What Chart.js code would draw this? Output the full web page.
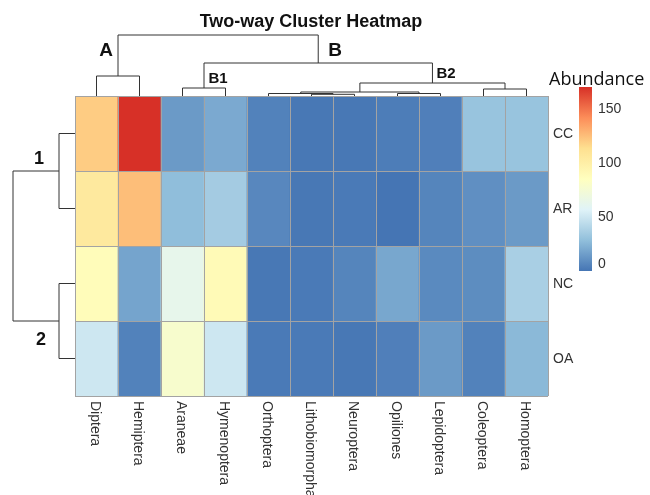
<!DOCTYPE html>
<html>
<head>
<meta charset="utf-8">
<script src="https://cdn.jsdelivr.net/npm/chart.js@4"></script>
<style>
  html, body { margin: 0; padding: 0; background: #fff; }
  #wrap { width: 650px; height: 495px; }
</style>
</head>
<body>
<div id="wrap"><canvas id="heatmap" width="650" height="495"></canvas></div>
<script>
// columns (insect orders) in dendrogram order
const cols = ['Diptera', 'Hemiptera', 'Araneae', 'Hymenoptera', 'Orthoptera', 'Lithobiomorpha',
              'Neuroptera', 'Opiliones', 'Lepidoptera', 'Coleoptera', 'Homoptera'];
// rows (sites)
const rows = ['CC', 'AR', 'NC', 'OA'];

// abundance values
const ccValues = [120, 170, 14, 20, 5, 1, 1, 3, 4, 31, 31];
const arValues = [105, 125, 28, 35, 7, 1, 2, 0, 6, 10, 14];
const ncValues = [88, 18, 63, 90, 1, 2, 6, 19, 8, 9, 37];
const oaValues = [50, 5, 78, 50, 2, 2, 1, 4, 14, 5, 26];
const rowValues = [ccValues, arValues, ncValues, oaValues];

// colour legend
const legendTicks = [0, 50, 100, 150];
const legendMin = 0;
const legendMax = 170;

// dendrograms: leaf = index, node = [left, right, mergeHeight]
const colTree = [[0, 1, 20], [[2, 3, 8], [[[4, [5, 6, 1.7], 2.5], [7, 8, 2.5], 4], [9, 10, 7], 13], 33], 61];
const rowTree = [[0, 1, 16], [2, 3, 16], 62];

// rev(RdYlBu) palette as used by pheatmap
const palette = ['#4575B4', '#91BFDB', '#E0F3F8', '#FFFFBF', '#FEE090', '#FC8D59', '#D73027'];

function hexToRgb(h) {
  return [parseInt(h.substr(1, 2), 16), parseInt(h.substr(3, 2), 16), parseInt(h.substr(5, 2), 16)];
}

function colorFor(v) {
  let t = (v - legendMin) / (legendMax - legendMin);
  t = Math.max(0, Math.min(1, t)) * (palette.length - 1);
  const i = Math.min(palette.length - 2, Math.floor(t));
  const f = t - i;
  const a = hexToRgb(palette[i]), b = hexToRgb(palette[i + 1]);
  const c = a.map((x, k) => Math.round(x + (b[k] - x) * f));
  return `rgb(${c[0]},${c[1]},${c[2]})`;
}

const FONT = '"Liberation Sans", Arial, sans-serif';

const decorPlugin = {
  id: 'decor',
  afterDatasetsDraw(chart) {
    const ctx = chart.ctx;
    const area = chart.chartArea;
    const x = chart.scales.x;
    const y = chart.scales.y;
    const cw = area.width / cols.length;
    const rh = area.height / rows.length;

    ctx.save();
    // cell borders
    ctx.strokeStyle = '#a3a3a3';
    ctx.lineWidth = 1;
    ctx.beginPath();
    for (let i = 0; i <= cols.length; i++) {
      const px = Math.round(area.left + i * cw) + 0.5;
      ctx.moveTo(px, area.top);
      ctx.lineTo(px, area.bottom);
    }
    for (let j = 0; j <= rows.length; j++) {
      const py = Math.round(area.top + j * rh) + 0.5;
      ctx.moveTo(area.left, py);
      ctx.lineTo(area.right, py);
    }
    ctx.stroke();

    // top dendrogram
    ctx.strokeStyle = '#333';
    ctx.lineWidth = 1;
    function drawCol(node) {
      if (typeof node === 'number') return { p: x.getPixelForValue(node), h: 0 };
      const l = drawCol(node[0]), r = drawCol(node[1]);
      const yy = area.top - node[2];
      ctx.beginPath();
      ctx.moveTo(l.p, area.top - l.h);
      ctx.lineTo(l.p, yy);
      ctx.lineTo(r.p, yy);
      ctx.lineTo(r.p, area.top - r.h);
      ctx.stroke();
      return { p: (l.p + r.p) / 2, h: node[2] };
    }
    drawCol(colTree);

    // left dendrogram
    function drawRow(node) {
      if (typeof node === 'number') return { p: y.getPixelForValue(node + 0.5), h: 0 };
      const t = drawRow(node[0]), b = drawRow(node[1]);
      const xx = area.left - node[2];
      ctx.beginPath();
      ctx.moveTo(area.left - t.h, t.p);
      ctx.lineTo(xx, t.p);
      ctx.lineTo(xx, b.p);
      ctx.lineTo(area.left - b.h, b.p);
      ctx.stroke();
      return { p: (t.p + b.p) / 2, h: node[2] };
    }
    drawRow(rowTree);

    // cluster letters
    ctx.fillStyle = '#111';
    ctx.textAlign = 'center';
    ctx.textBaseline = 'middle';
    ctx.font = 'bold 19px ' + FONT;
    ctx.fillText('A', 106, 51);
    ctx.fillText('B', 335, 51);
    ctx.font = 'bold 15px ' + FONT;
    ctx.fillText('B1', 218, 79);
    ctx.fillText('B2', 446, 74);
    ctx.font = 'bold 18px ' + FONT;
    ctx.fillText('1', 39, 159);
    ctx.fillText('2', 41, 340);

    // column labels, rotated to read top to bottom
    ctx.fillStyle = '#333';
    ctx.font = '14px ' + FONT;
    ctx.textAlign = 'left';
    cols.forEach((c, i) => {
      ctx.save();
      ctx.translate(x.getPixelForValue(i) - 2, area.bottom + 5);
      ctx.rotate(Math.PI / 2);
      ctx.fillText(c, 0, 0);
      ctx.restore();
    });

    // row labels
    rows.forEach((r, j) => {
      ctx.fillText(r, area.right + 5, y.getPixelForValue(j + 0.5) + 1);
    });

    // colour bar
    const barL = 579, barW = 13, barTop = 87, barBot = 271;
    const grad = ctx.createLinearGradient(0, barBot, 0, barTop);
    palette.forEach((c, k) => grad.addColorStop(k / (palette.length - 1), c));
    ctx.fillStyle = grad;
    ctx.fillRect(barL, barTop, barW, barBot - barTop);
    ctx.fillStyle = '#333';
    ctx.font = '14px ' + FONT;
    legendTicks.forEach(v => {
      const py = barBot - (v - legendMin) / (legendMax - legendMin) * (barBot - barTop);
      ctx.fillText(String(v), barL + barW + 6, Math.min(py, barBot - 7));
    });
    ctx.fillStyle = '#111';
    ctx.font = '18px "Open Sans", "Noto Sans", sans-serif';
    ctx.fillText('Abundance', 549, 80);

    // title
    ctx.textAlign = 'center';
    ctx.font = 'bold 18px ' + FONT;
    ctx.fillText('Two-way Cluster Heatmap', 311, 22);
    ctx.restore();
  }
};

const datasets = rows.map((r, j) => ({
  label: r,
  data: rowValues[j].map(() => [j, j + 1]),
  backgroundColor: rowValues[j].map(colorFor),
  borderWidth: 0,
  grouped: false,
  categoryPercentage: 1,
  barPercentage: 1
}));

new Chart(document.getElementById('heatmap').getContext('2d'), {
  type: 'bar',
  data: { labels: cols, datasets: datasets },
  options: {
    responsive: false,
    animation: false,
    layout: { padding: { left: 75, right: 102, top: 96, bottom: 99 } },
    plugins: { legend: { display: false }, tooltip: { enabled: false } },
    scales: {
      x: { display: false, offset: true },
      y: { display: false, min: 0, max: rows.length, reverse: true }
    }
  },
  plugins: [decorPlugin]
});
</script>
</body>
</html>
